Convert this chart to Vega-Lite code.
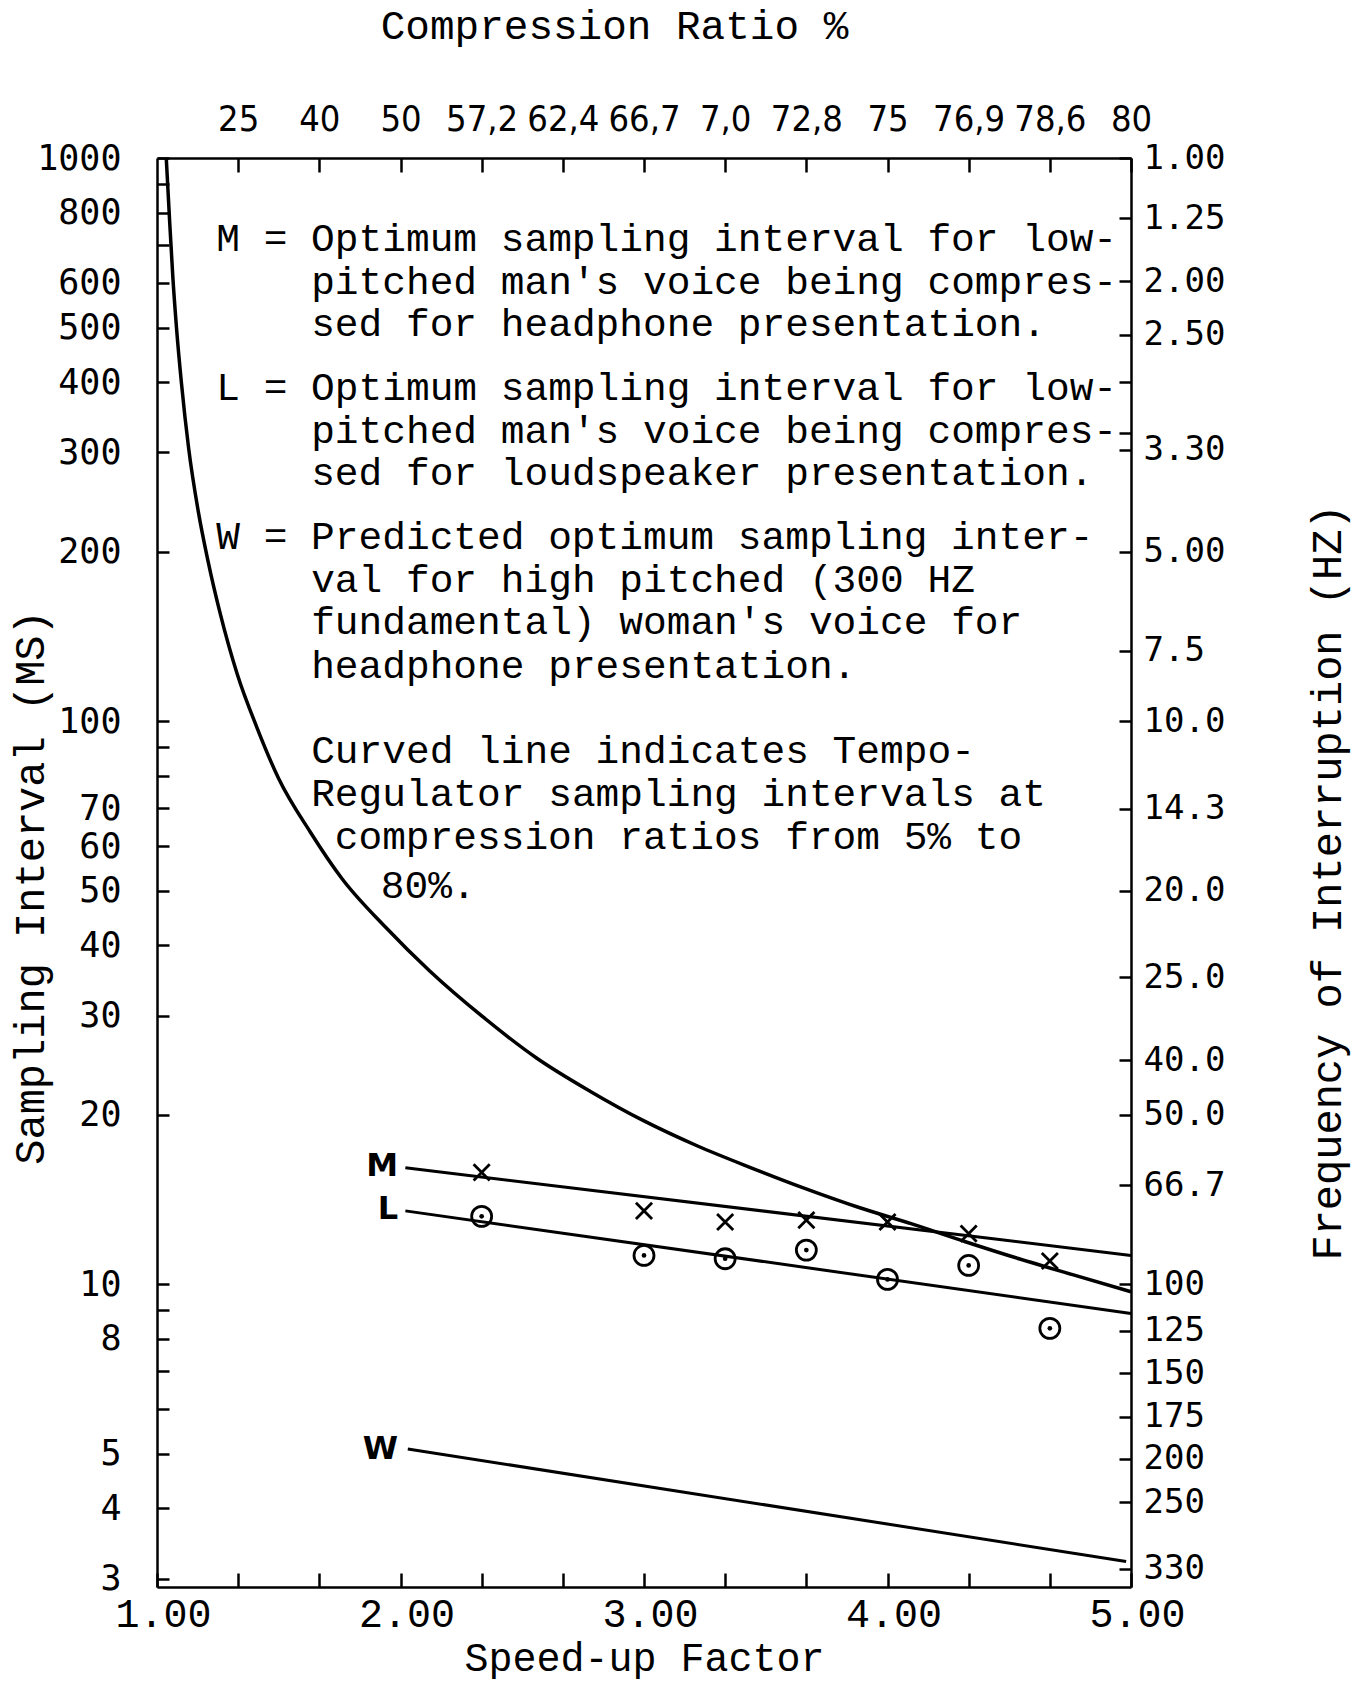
{
  "$schema": "https://vega.github.io/schema/vega-lite/v6.json",
  "width": 974,
  "height": 1429,
  "autosize": {"type": "none"},
  "padding": {"left": 157, "top": 158, "right": 223, "bottom": 95},
  "background": "white",
  "config": {
    "view": {"stroke": null},
    "axis": {
      "grid": false,
      "domainColor": "black",
      "domainWidth": 2.5,
      "tickColor": "black",
      "tickWidth": 2.5,
      "labelColor": "black",
      "titleColor": "black",
      "labelOverlap": false,
      "labelFlush": false,
      "labelBound": false,
      "titleFontWeight": "normal"
    }
  },
  "datasets": {
    "curve": [
      {"s": 1.038, "ms": 1000}, {"s": 1.05, "ms": 800}, {"s": 1.065, "ms": 615},
      {"s": 1.08, "ms": 500}, {"s": 1.1, "ms": 400}, {"s": 1.13, "ms": 305},
      {"s": 1.17, "ms": 235}, {"s": 1.21, "ms": 192}, {"s": 1.26, "ms": 155},
      {"s": 1.33, "ms": 121}, {"s": 1.41, "ms": 97.5}, {"s": 1.5, "ms": 79},
      {"s": 1.63, "ms": 63.5}, {"s": 1.76, "ms": 52.5}, {"s": 1.94, "ms": 43},
      {"s": 2.12, "ms": 36}, {"s": 2.34, "ms": 29.8}, {"s": 2.56, "ms": 25.2},
      {"s": 2.78, "ms": 22.0}, {"s": 3.0, "ms": 19.5}, {"s": 3.22, "ms": 17.6},
      {"s": 3.44, "ms": 16.1}, {"s": 3.66, "ms": 14.8}, {"s": 3.88, "ms": 13.7},
      {"s": 4.1, "ms": 12.8}, {"s": 4.32, "ms": 11.9}, {"s": 4.54, "ms": 11.1},
      {"s": 4.76, "ms": 10.4}, {"s": 5.0, "ms": 9.7}
    ],
    "lines": [
      {"g": "M", "s": 2.02, "ms": 16.1}, {"g": "M", "s": 5.0, "ms": 11.25},
      {"g": "L", "s": 2.02, "ms": 13.5}, {"g": "L", "s": 5.0, "ms": 8.87},
      {"g": "W", "s": 2.03, "ms": 5.1}, {"g": "W", "s": 4.98, "ms": 3.22}
    ],
    "mpts": [
      {"s": 2.3333, "ms": 15.8}, {"s": 3.0, "ms": 13.5}, {"s": 3.3333, "ms": 12.9},
      {"s": 3.6667, "ms": 13.0}, {"s": 4.0, "ms": 12.9}, {"s": 4.3333, "ms": 12.3},
      {"s": 4.6667, "ms": 11.0}
    ],
    "lpts": [
      {"s": 2.3333, "ms": 13.2}, {"s": 3.0, "ms": 11.25}, {"s": 3.3333, "ms": 11.1},
      {"s": 3.6667, "ms": 11.5}, {"s": 4.0, "ms": 10.2}, {"s": 4.3333, "ms": 10.8},
      {"s": 4.6667, "ms": 8.35}
    ],
    "letters": [
      {"t": "M", "s": 1.99, "ms": 16.2},
      {"t": "L", "s": 1.99, "ms": 13.6},
      {"t": "W", "s": 1.99, "ms": 5.1}
    ],
    "notes": [
      {"s": 1.2435, "ms": 717, "t": "M = Optimum sampling interval for low-"},
      {"s": 1.633, "ms": 602, "t": "pitched man's voice being compres-"},
      {"s": 1.633, "ms": 507, "t": "sed for headphone presentation."},
      {"s": 1.2435, "ms": 390, "t": "L = Optimum sampling interval for low-"},
      {"s": 1.633, "ms": 327, "t": "pitched man's voice being compres-"},
      {"s": 1.633, "ms": 275.5, "t": "sed for loudspeaker presentation."},
      {"s": 1.2435, "ms": 212.7, "t": "W = Predicted optimum sampling inter-"},
      {"s": 1.633, "ms": 178.4, "t": "val for high pitched (300 HZ"},
      {"s": 1.633, "ms": 149.7, "t": "fundamental) woman's voice for"},
      {"s": 1.633, "ms": 125.1, "t": "headphone presentation."},
      {"s": 1.633, "ms": 88.4, "t": "Curved line indicates Tempo-"},
      {"s": 1.633, "ms": 74.2, "t": "Regulator sampling intervals at"},
      {"s": 1.73, "ms": 62.3, "t": "compression ratios from 5% to"},
      {"s": 1.919, "ms": 50.9, "t": "80%."}
    ],
    "frame": [{"s": 1, "hz": 1}, {"s": 5, "hz": 344.83}]
  },
  "layer": [
    {
      "encoding": {
        "x": {
          "field": "s", "type": "quantitative",
          "scale": {"domain": [1, 5], "nice": false, "zero": false},
          "axis": {
            "orient": "bottom",
            "values": [1, 1.3333, 1.6667, 2, 2.3333, 2.6667, 3, 3.3333, 3.6667, 4, 4.3333, 4.6667, 5],
            "labelExpr": "abs(datum.value - round(datum.value)) < 0.01 ? format(datum.value, '.2f') : ''",
            "tickSize": -14,
            "labelPadding": 41,
            "labelBaseline": "middle",
            "labelOffset": 6,
            "labelFont": "Liberation Mono",
            "labelFontSize": 40,
            "title": "Speed-up Factor",
            "titleFont": "Liberation Mono",
            "titleFontSize": 40,
            "titleBaseline": "middle",
            "titleY": 71
          }
        },
        "y": {
          "field": "ms", "type": "quantitative",
          "scale": {"type": "log", "domain": [2.9, 1000], "nice": false},
          "axis": {
            "orient": "left",
            "values": [3, 4, 5, 6, 7, 8, 9, 10, 20, 30, 40, 50, 60, 70, 80, 90, 100, 200, 300, 400, 500, 600, 700, 800, 900, 1000],
            "labelExpr": "indexof([1000,800,600,500,400,300,200,100,70,60,50,40,30,20,10,8,5,4,3], datum.value) >= 0 ? format(datum.value, 'd') : ''",
            "tickSize": -12,
            "labelPadding": 48,
            "labelFont": "DejaVu Sans Mono",
            "labelFontSize": 35,
            "title": "Sampling Interval (MS)",
            "titleFont": "Liberation Mono",
            "titleFontSize": 42,
            "titleAngle": 270,
            "titleBaseline": "middle",
            "titleX": -127,
            "titleY": 729
          }
        }
      },
      "layer": [
        {
          "data": {"name": "curve"},
          "mark": {"type": "line", "color": "black", "strokeWidth": 3.5, "interpolate": "monotone"}
        },
        {
          "data": {"name": "lines"},
          "mark": {"type": "line", "color": "black", "strokeWidth": 3},
          "encoding": {"detail": {"field": "g"}}
        },
        {
          "data": {"name": "mpts"},
          "mark": {"type": "point", "shape": "M-1,-1L1,1M-1,1L1,-1", "filled": false, "stroke": "black", "strokeWidth": 2.8, "size": 260, "opacity": 1}
        },
        {
          "data": {"name": "lpts"},
          "mark": {"type": "point", "shape": "circle", "filled": false, "stroke": "black", "strokeWidth": 2.8, "size": 400, "opacity": 1}
        },
        {
          "data": {"name": "lpts"},
          "mark": {"type": "point", "shape": "circle", "filled": true, "color": "black", "size": 22, "opacity": 1}
        },
        {
          "data": {"name": "letters"},
          "mark": {"type": "text", "font": "DejaVu Sans", "fontWeight": "bold", "fontSize": 32, "align": "right", "baseline": "middle", "color": "black"},
          "encoding": {"text": {"field": "t"}}
        },
        {
          "data": {"name": "notes"},
          "mark": {"type": "text", "font": "Liberation Mono", "fontSize": 39.5, "align": "left", "baseline": "middle", "color": "black"},
          "encoding": {"text": {"field": "t"}}
        }
      ]
    },
    {
      "data": {"name": "frame"},
      "mark": {"type": "point", "opacity": 0},
      "encoding": {
        "x": {
          "field": "s", "type": "quantitative",
          "scale": {"domain": [1, 5], "nice": false, "zero": false},
          "axis": {
            "orient": "top",
            "values": [1.3333, 1.6667, 2, 2.3333, 2.6667, 3, 3.3333, 3.6667, 4, 4.3333, 4.6667, 5],
            "labelExpr": "datum.value < 1.5 ? '25' : datum.value < 1.8 ? '40' : datum.value < 2.1 ? '50' : datum.value < 2.5 ? '57,2' : datum.value < 2.8 ? '62,4' : datum.value < 3.1 ? '66,7' : datum.value < 3.5 ? '7,0' : datum.value < 3.8 ? '72,8' : datum.value < 4.1 ? '75' : datum.value < 4.5 ? '76,9' : datum.value < 4.8 ? '78,6' : '80'",
            "tickSize": -14,
            "labelPadding": 53,
            "labelBaseline": "middle",
            "labelFont": "Liberation Sans Narrow, DejaVu Sans Condensed, sans-serif",
            "labelFontSize": 36,
            "title": "Compression Ratio %",
            "titleFont": "Liberation Mono",
            "titleFontSize": 41,
            "titleBaseline": "middle",
            "titleX": 457,
            "titleY": -132
          }
        },
        "y": {
          "field": "hz", "type": "quantitative",
          "scale": {"type": "log", "domain": [1, 344.83], "reverse": true, "nice": false},
          "axis": {
            "orient": "right",
            "values": [1, 1.28, 1.655, 2.06, 2.5, 3.08, 3.3, 5, 7.5, 10, 14.3, 20, 28.5, 40, 50, 66.7, 100, 121, 144, 172, 204, 244, 320],
            "labelExpr": "datum.value == 1 ? '1.00' : datum.value == 1.28 ? '1.25' : datum.value == 1.655 ? '2.00' : datum.value == 2.06 ? '2.50' : datum.value == 3.3 ? '3.30' : datum.value == 5 ? '5.00' : datum.value == 7.5 ? '7.5' : datum.value == 10 ? '10.0' : datum.value == 14.3 ? '14.3' : datum.value == 20 ? '20.0' : datum.value == 28.5 ? '25.0' : datum.value == 40 ? '40.0' : datum.value == 50 ? '50.0' : datum.value == 66.7 ? '66.7' : datum.value == 100 ? '100' : datum.value == 121 ? '125' : datum.value == 144 ? '150' : datum.value == 172 ? '175' : datum.value == 204 ? '200' : datum.value == 244 ? '250' : datum.value == 320 ? '330' : ''",
            "tickSize": -12,
            "labelPadding": 24,
            "labelFont": "DejaVu Sans Mono",
            "labelFontSize": 34,
            "title": "Frequency of Interruption (HZ)",
            "titleFont": "Liberation Mono",
            "titleFontSize": 42,
            "titleAngle": 270,
            "titleBaseline": "middle",
            "titleX": 196,
            "titleY": 724
          }
        }
      }
    }
  ],
  "resolve": {"scale": {"x": "independent", "y": "independent"}}
}
